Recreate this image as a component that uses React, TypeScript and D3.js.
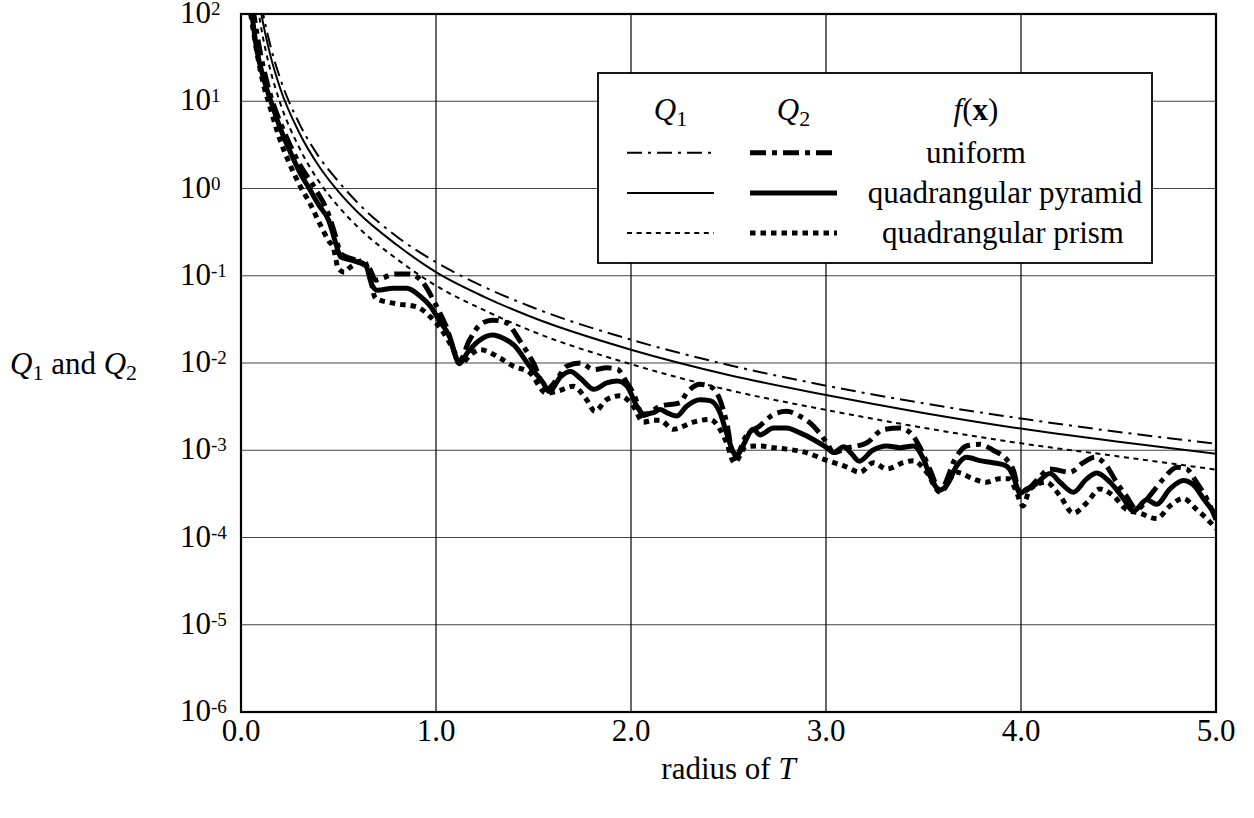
import React from "react";
import * as d3 from "d3";

// ---------- data ----------
const xTickValues = [0, 1, 2, 3, 4, 5];
const xTickLabels = ["0.0", "1.0", "2.0", "3.0", "4.0", "5.0"];
const yExponents = [2, 1, 0, -1, -2, -3, -4, -5, -6];

const q1X = [0.08, 0.1, 0.15, 0.2, 0.3, 0.4, 0.5, 0.6, 0.8, 1.0, 1.25, 1.5, 2.0, 2.5, 3.0, 3.5, 4.0, 4.5, 5.0];
const q1Uniform = [290, 148, 44, 18.5, 5.5, 2.3, 1.2, 0.68, 0.28, 0.143, 0.074, 0.043, 0.0185, 0.0095, 0.0055, 0.00345, 0.00231, 0.00162, 0.00119];
const q1Pyramid = [222, 114, 34, 14.3, 4.3, 1.8, 0.92, 0.53, 0.225, 0.11, 0.057, 0.033, 0.0142, 0.0073, 0.0043, 0.00268, 0.00177, 0.00125, 0.00091];
const q1Prism = [150, 77, 23, 9.7, 2.9, 1.2, 0.62, 0.36, 0.155, 0.077, 0.04, 0.0228, 0.0097, 0.0049, 0.0029, 0.00181, 0.0012, 0.00085, 0.0006];

const q2UniformX = [0.06, 0.1, 0.15, 0.2, 0.25, 0.3, 0.38, 0.45, 0.49, 0.51, 0.59, 0.66, 0.69, 0.73, 0.79, 0.86, 0.93, 1.0, 1.05, 1.12, 1.17, 1.23, 1.29, 1.36, 1.43, 1.5, 1.567, 1.62, 1.67, 1.74, 1.81, 1.875, 1.93, 1.98, 2.012, 2.063, 2.15, 2.25, 2.285, 2.354, 2.405, 2.456, 2.49, 2.53, 2.59, 2.66, 2.73, 2.798, 2.867, 2.935, 3.004, 3.04, 3.1, 3.21, 3.294, 3.38, 3.448, 3.48, 3.533, 3.585, 3.67, 3.72, 3.79, 3.857, 3.925, 3.96, 3.995, 4.03, 4.08, 4.149, 4.251, 4.319, 4.379, 4.439, 4.49, 4.54, 4.593, 4.66, 4.73, 4.8, 4.85, 4.9, 4.952, 5.0];
const q2UniformY = [120, 35, 12, 5.8, 3.2, 1.9, 1.0, 0.5, 0.26, 0.18, 0.15, 0.12, 0.089, 0.095, 0.105, 0.105, 0.085, 0.046, 0.027, 0.0105, 0.018, 0.028, 0.031, 0.029, 0.018, 0.01, 0.005, 0.0065, 0.0092, 0.010, 0.0084, 0.0088, 0.0085, 0.0059, 0.0045, 0.0025, 0.0032, 0.0035, 0.0045, 0.0057, 0.0054, 0.0038, 0.0021, 0.0008, 0.00146, 0.0019, 0.00257, 0.0028, 0.00245, 0.0019, 0.00122, 0.00094, 0.00105, 0.00122, 0.00173, 0.0018, 0.00145, 0.0011, 0.0006, 0.00035, 0.00086, 0.00112, 0.00117, 0.001, 0.00079, 0.0006, 0.00033, 0.00035, 0.00045, 0.00061, 0.00056, 0.00072, 0.00083, 0.00066, 0.00043, 0.0003, 0.00021, 0.0003, 0.00047, 0.00064, 0.00061, 0.00043, 0.00028, 0.00016];

const q2PyramidX = [0.05, 0.08, 0.12, 0.16, 0.2, 0.25, 0.3, 0.35, 0.4, 0.45, 0.49, 0.51, 0.57, 0.64, 0.67, 0.7, 0.78, 0.85, 0.92, 0.97, 1.02, 1.07, 1.12, 1.16, 1.22, 1.29, 1.35, 1.4, 1.48, 1.55, 1.58, 1.64, 1.69, 1.74, 1.81, 1.875, 1.93, 1.98, 2.03, 2.065, 2.115, 2.149, 2.183, 2.234, 2.285, 2.354, 2.405, 2.456, 2.49, 2.525, 2.54, 2.576, 2.627, 2.661, 2.73, 2.798, 2.867, 2.935, 3.004, 3.04, 3.09, 3.13, 3.17, 3.24, 3.31, 3.38, 3.45, 3.5, 3.533, 3.585, 3.62, 3.67, 3.72, 3.79, 3.857, 3.925, 3.96, 3.995, 4.03, 4.063, 4.149, 4.2, 4.268, 4.337, 4.388, 4.457, 4.525, 4.576, 4.645, 4.696, 4.764, 4.832, 4.884, 4.935, 5.0];
const q2PyramidY = [130, 40, 17, 9, 5, 2.7, 1.55, 1.0, 0.64, 0.43, 0.22, 0.165, 0.15, 0.13, 0.08, 0.068, 0.072, 0.072, 0.058, 0.045, 0.03, 0.02, 0.0098, 0.013, 0.018, 0.021, 0.019, 0.016, 0.0092, 0.0059, 0.0047, 0.007, 0.008, 0.0067, 0.005, 0.0059, 0.0062, 0.0054, 0.0032, 0.0026, 0.0027, 0.00294, 0.0027, 0.00247, 0.0032, 0.0038, 0.0037, 0.0027, 0.00158, 0.00095, 0.00085, 0.00115, 0.00174, 0.0015, 0.0018, 0.0018, 0.00158, 0.00133, 0.00107, 0.00094, 0.0011, 0.00092, 0.00075, 0.001, 0.00112, 0.00107, 0.00112, 0.00079, 0.00051, 0.00035, 0.0004, 0.00066, 0.00083, 0.00076, 0.00072, 0.00066, 0.00051, 0.00032, 0.00036, 0.00039, 0.00054, 0.00043, 0.00033, 0.00047, 0.00055, 0.00043, 0.00028, 0.0002, 0.00027, 0.00024, 0.00036, 0.00045, 0.0004, 0.00028, 0.00018];

const q2PrismX = [0.05, 0.08, 0.12, 0.14, 0.2, 0.25, 0.31, 0.35, 0.405, 0.45, 0.473, 0.5, 0.53, 0.56, 0.63, 0.66, 0.69, 0.79, 0.9, 0.97, 1.04, 1.1, 1.13, 1.17, 1.226, 1.328, 1.397, 1.482, 1.567, 1.63, 1.704, 1.772, 1.815, 1.875, 1.943, 2.012, 2.063, 2.115, 2.149, 2.217, 2.319, 2.405, 2.456, 2.49, 2.53, 2.59, 2.66, 2.73, 2.798, 2.9, 2.986, 3.04, 3.1, 3.174, 3.243, 3.312, 3.396, 3.448, 3.516, 3.585, 3.67, 3.755, 3.82, 3.89, 3.94, 3.977, 4.01, 4.046, 4.13, 4.2, 4.268, 4.337, 4.405, 4.474, 4.54, 4.61, 4.696, 4.764, 4.832, 4.9, 4.952, 5.0];
const q2PrismY = [100, 38, 14, 10, 3.6, 1.9, 1.0, 0.7, 0.39, 0.25, 0.21, 0.12, 0.11, 0.125, 0.15, 0.1, 0.055, 0.048, 0.044, 0.034, 0.022, 0.0128, 0.0098, 0.012, 0.0142, 0.0114, 0.0092, 0.0077, 0.0045, 0.0048, 0.0054, 0.0038, 0.0028, 0.0038, 0.0042, 0.0032, 0.0021, 0.0022, 0.0022, 0.00174, 0.0021, 0.00226, 0.00174, 0.00122, 0.00072, 0.0011, 0.00112, 0.00107, 0.00103, 0.00094, 0.00079, 0.00072, 0.00065, 0.00056, 0.00072, 0.00061, 0.00072, 0.00076, 0.00056, 0.00033, 0.00056, 0.00047, 0.00043, 0.00047, 0.00047, 0.00033, 0.00023, 0.00036, 0.00043, 0.0003, 0.00019, 0.00025, 0.00036, 0.0003, 0.00021, 0.00019, 0.000165, 0.00023, 0.00028, 0.00021, 0.000165, 0.000126];

const legendRows = ["uniform", "quadrangular pyramid", "quadrangular prism"];

// ---------- layout ----------
const W = 1254;
const H = 818;
const L = 241;
const R = 1216;
const T = 14;
const B = 712;
const FONT = "'Liberation Serif', 'Times New Roman', serif";
const FS = 31;
const SUP = 19;

const thin = 2;
const thick = 5;
const q1Dash = ["15,6,3,6", "", "5,4.6"];
const q2Dash = ["16,6,5,6", "", "5.5,5"];

export default function App() {
  const x = d3.scaleLinear().domain([0, 5]).range([L, R]);
  const y = d3.scaleLog().domain([1e-6, 1e2]).range([B, T]);
  const line = (xs: number[], ys: number[]) =>
    d3
      .line<number>()
      .x((_, i) => x(xs[i]))
      .y((d) => y(d))
      .curve(d3.curveMonotoneX)(ys) || "";

  const q1 = [q1Uniform, q1Pyramid, q1Prism];
  const q2 = [
    [q2UniformX, q2UniformY],
    [q2PyramidX, q2PyramidY],
    [q2PrismX, q2PrismY],
  ];

  const legX = 598;
  const legY = 73;
  const legW = 554;
  const legH = 190;
  const rowYs = [152.7, 193, 233];
  const c1 = [627, 714];
  const c2 = [750, 837];
  const textX = [976, 1005, 1003];

  return (
    <svg
      width={W}
      height={H}
      style={{ position: "absolute", left: 0, top: 0, background: "#fff" }}
      fontFamily={FONT}
    >
      <defs>
        <clipPath id="plotclip">
          <rect x={L} y={T} width={R - L} height={B - T} />
        </clipPath>
      </defs>
      <rect x={0} y={0} width={W} height={H} fill="#fff" />
      {/* grid */}
      {yExponents.map((e) => (
        <line key={"gy" + e} x1={L} x2={R} y1={y(Math.pow(10, e))} y2={y(Math.pow(10, e))} stroke="#444" strokeWidth={1.2} />
      ))}
      {xTickValues.map((v) => (
        <line key={"gx" + v} x1={x(v)} x2={x(v)} y1={T} y2={B} stroke="#000" strokeWidth={1.2} />
      ))}
      {/* curves */}
      <g clipPath="url(#plotclip)" fill="none" stroke="#000">
        {q1.map((ys, i) => (
          <path key={"q1" + i} d={line(q1X, ys)} strokeWidth={thin} strokeDasharray={q1Dash[i] || undefined} />
        ))}
        {q2.map(([xs, ys], i) => (
          <path key={"q2" + i} d={line(xs, ys)} strokeWidth={thick} strokeDasharray={q2Dash[i] || undefined} strokeLinejoin="round" />
        ))}
      </g>
      {/* frame */}
      <rect x={L} y={T} width={R - L} height={B - T} fill="none" stroke="#000" strokeWidth={2.2} />
      {/* y tick labels */}
      {yExponents.map((e) => (
        <text key={"yl" + e} x={180} y={y(Math.pow(10, e)) + 9} fontSize={FS} fill="#000">
          10
          <tspan fontSize={SUP} dy={-8}>
            {e < 0 ? "-" + Math.abs(e) : String(e)}
          </tspan>
        </text>
      ))}
      {/* x tick labels */}
      {xTickValues.map((v, i) => (
        <text key={"xl" + v} x={x(v)} y={B + 29} fontSize={FS} textAnchor="middle" fill="#000">
          {xTickLabels[i]}
        </text>
      ))}
      <text x={(L + R) / 2} y={B + 67} fontSize={FS} textAnchor="middle" fill="#000">
        radius of <tspan fontStyle="italic">T</tspan>
      </text>
      <text x={10} y={y(1e-2) + 11} fontSize={FS} fill="#000">
        <tspan fontStyle="italic">Q</tspan>
        <tspan fontSize={22} dy={6}>1</tspan>
        <tspan dy={-6}> and </tspan>
        <tspan fontStyle="italic">Q</tspan>
        <tspan fontSize={22} dy={6}>2</tspan>
      </text>
      {/* legend */}
      <rect x={legX} y={legY} width={legW} height={legH} fill="#fff" stroke="#000" strokeWidth={1.8} />
      <text x={(c1[0] + c1[1]) / 2} y={legY + 47} fontSize={FS} textAnchor="middle">
        <tspan fontStyle="italic">Q</tspan>
        <tspan fontSize={22} dy={6}>1</tspan>
      </text>
      <text x={(c2[0] + c2[1]) / 2} y={legY + 47} fontSize={FS} textAnchor="middle">
        <tspan fontStyle="italic">Q</tspan>
        <tspan fontSize={22} dy={6}>2</tspan>
      </text>
      <text x={976} y={legY + 47} fontSize={FS} textAnchor="middle">
        <tspan fontStyle="italic">f</tspan>(<tspan fontWeight="bold">x</tspan>)
      </text>
      {legendRows.map((name, i) => (
        <g key={"lg" + i}>
          <line x1={c1[0]} x2={c1[1]} y1={rowYs[i]} y2={rowYs[i]} stroke="#000" strokeWidth={thin} strokeDasharray={q1Dash[i] || undefined} />
          <line x1={c2[0]} x2={c2[1]} y1={rowYs[i]} y2={rowYs[i]} stroke="#000" strokeWidth={thick} strokeDasharray={q2Dash[i] || undefined} />
          <text x={textX[i]} y={rowYs[i] + 10} fontSize={FS} textAnchor="middle">
            {name}
          </text>
        </g>
      ))}
    </svg>
  );
}
